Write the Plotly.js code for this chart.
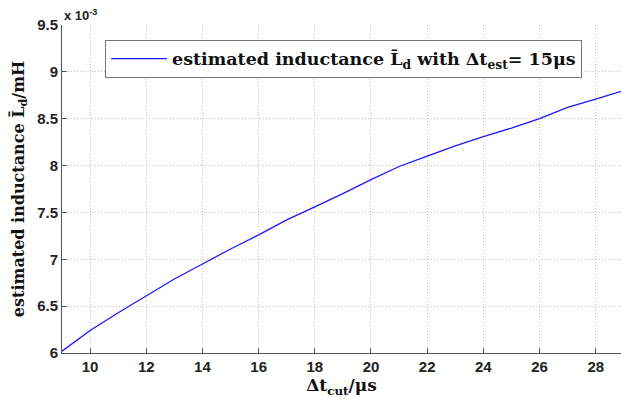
<!DOCTYPE html>
<html><head><meta charset="utf-8">
<script src="https://cdn.plot.ly/plotly-3.0.1.min.js"></script>
<style>html,body{margin:0;padding:0;background:#fff}#chart{width:621px;height:401px}</style>
</head><body><div id="chart"></div>
<script>
// Δt_cut in μs
const tCut = [9,10,11,12,13,14,15,16,17,18,19,20,21,22,23,24,25,26,27,28,29];
// estimated inductance (×10^-3 mH)
const inductance = [6.02,6.24,6.43,6.61,6.79,6.95,7.11,7.26,7.42,7.56,7.70,7.85,7.99,8.10,8.21,8.31,8.40,8.50,8.62,8.71,8.80];
const xTicks = [10,12,14,16,18,20,22,24,26,28];
const yTicks = [6,6.5,7,7.5,8,8.5,9,9.5];
const yTickText = ['6','6.5','7','7.5','8','8.5','9','9.5'];

const trace = {
  x: tCut, y: inductance, mode: 'lines', type: 'scatter',
  line: {color: '#1a1aff', width: 1.3},
  name: 'estimated inductance L\u0304<sub>d</sub> with <b>\u0394</b>t<sub>est</sub>= 15\u03bcs'
};
const tickFont = {family: 'Liberation Sans, Arial, sans-serif', size: 15, color: '#222'};
const layout = {
  width: 621, height: 401,
  margin: {l: 62, r: 0, t: 25, b: 48},
  paper_bgcolor: '#fff', plot_bgcolor: '#fff',
  showlegend: true,
  legend: {
    x: 0.077, y: 0.955, xanchor: 'left', yanchor: 'top',
    bgcolor: '#fff', bordercolor: '#777', borderwidth: 1,
    font: {family: 'DejaVu Serif, Liberation Serif, serif', size: 17.5, color: '#111', weight: 'bold'},
    itemwidth: 56
  },
  xaxis: {
    range: [9, 28.9], tickvals: xTicks, ticks: 'inside', ticklen: 5, tickcolor: '#555',
    showline: true, linecolor: '#555', linewidth: 1, mirror: false,
    showgrid: true, gridcolor: '#c4c4c4', griddash: '1px,2px', gridwidth: 1, zeroline: false,
    tickfont: Object.assign({weight: 'bold'}, tickFont),
    title: {text: '<b>\u0394t<sub>cut</sub>/\u03bcs</b>', standoff: 4,
      font: {family: 'DejaVu Serif, Liberation Serif, serif', size: 17, color: '#111'}}
  },
  yaxis: {
    range: [6, 9.5], tickvals: yTicks, ticktext: yTickText, ticks: 'inside', ticklen: 5, tickcolor: '#555',
    showline: true, linecolor: '#555', linewidth: 1,
    showgrid: true, gridcolor: '#c4c4c4', griddash: '1px,2px', gridwidth: 1, zeroline: false,
    tickfont: Object.assign({weight: 'bold'}, tickFont),
    title: {text: '<b>estimated inductance L\u0304<sub>d</sub>/mH</b>', standoff: 8,
      font: {family: 'DejaVu Serif, Liberation Serif, serif', size: 16, color: '#111'}}
  },
  annotations: [{
    xref: 'paper', yref: 'paper', x: 0.0, y: 1.0, xanchor: 'left', yanchor: 'bottom',
    text: '<b>x 10<sup>-3</sup></b>', showarrow: false,
    font: {family: 'Liberation Sans, Arial, sans-serif', size: 13, color: '#222'}
  }]
};
Plotly.newPlot('chart', [trace], layout, {displayModeBar: false, staticPlot: true});
</script>
</body></html>
